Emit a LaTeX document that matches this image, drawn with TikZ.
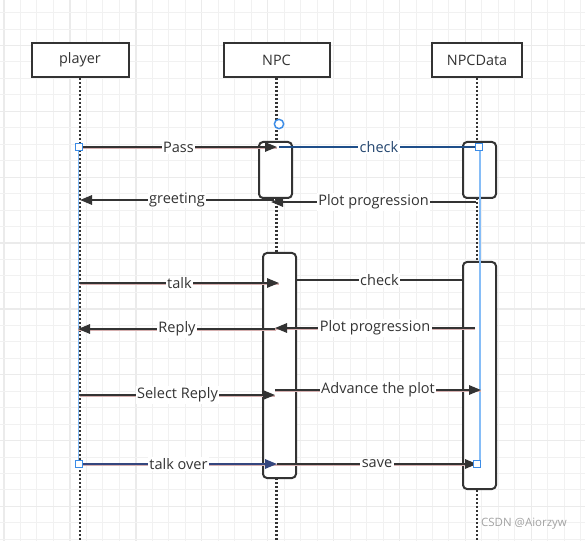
\documentclass[tikz,border=0pt]{standalone}
\usepackage{fontspec}
\setmainfont{Open Sans}
\usetikzlibrary{arrows.meta}
\definecolor{ink}{HTML}{333333}
\definecolor{gridminor}{HTML}{F1F1F1}
\definecolor{gridmajor}{HTML}{EBEBEB}
\definecolor{shadowpink}{HTML}{D6B0B0}
\definecolor{selblue}{HTML}{3C8CE6}
\definecolor{sellight}{HTML}{86BDF7}
\definecolor{edgeblue}{HTML}{1F4F8A}
\definecolor{overblue}{HTML}{34467E}
\definecolor{wmgray}{HTML}{A3A3A3}
\tikzset{
  actor/.style={draw=ink, line width=1.5pt, fill=white, minimum height=25.5pt, inner sep=0pt, font=\fontsize{10.8pt}{12pt}\selectfont, text=ink},
  actbox/.style={draw=ink, line width=1.5pt, fill=white, rounded corners=3pt, minimum width=24.75pt, inner sep=0pt},
  lifeline/.style={draw=ink, line width=1.6pt, dash pattern=on 1.5pt off 1.5pt},
  msgline/.style={draw=ink, line width=1.5pt, -{Triangle[length=9pt,width=7pt]}},
  plainline/.style={draw=ink, line width=1.5pt},
  shadowline/.style={draw=shadowpink, line width=1.1pt},
  lbl/.style={fill=white, inner sep=1pt, text=ink, font=\fontsize{10.9pt}{12pt}\selectfont},
  handlesq/.style={draw=selblue, fill=white, line width=0.9pt, minimum size=5.5pt, inner sep=0pt},
  handlecirc/.style={circle, draw=selblue, fill=white, line width=1.1pt, minimum size=7pt, inner sep=0pt},
  selline/.style={draw=sellight, line width=0.8pt},
}
\newcommand\pinkshadow[2]{\draw[shadowline] ([yshift=-0.8pt]#1) -- ([yshift=-0.8pt]#2);}
\begin{document}
\begin{tikzpicture}[x=0.75pt,y=-0.75pt]
\useasboundingbox (0,0) rectangle (585,541);
\fill[white] (0,0) rectangle (585,541);
% grid
\foreach \i in {0,...,35}{
  \pgfmathtruncatemacro\m{mod(\i,4)}
  \ifnum\m=0
    \draw[gridmajor, line width=1pt] ({4+16.48*\i},0) -- ({4+16.48*\i},541);
  \else
    \draw[gridminor, line width=0.75pt] ({4+16.48*\i},0) -- ({4+16.48*\i},541);
  \fi
}
\foreach \k in {-1,...,32}{
  \pgfmathtruncatemacro\m{mod(\k+8,4)}
  \ifnum\m=2
    \draw[gridmajor, line width=1pt] (0,{12.6+16.46*\k}) -- (585,{12.6+16.46*\k});
  \else
    \draw[gridminor, line width=0.75pt] (0,{12.6+16.46*\k}) -- (585,{12.6+16.46*\k});
  \fi
}
% actors
\node[actor, minimum width=72.75pt] (player) at (80,60) {player};
\node[actor, minimum width=79.5pt] (npc) at (276.5,60) {NPC};
\node[actor, minimum width=67.5pt] (npcdata) at (477,60) {NPCData};
\coordinate (bottom) at (0,541);
% lifelines
\draw[lifeline] (player.south) -- (player.south |- bottom);
\draw[lifeline] (npc.south) -- (npc.south |- bottom);
\draw[lifeline] (npcdata.south) -- (npcdata.south |- bottom);
% activation boxes
\node[actbox, minimum height=42pt] (act1) at (275.5,170) {};
\node[actbox, minimum height=42pt] (act2) at (479.5,170) {};
\node[actbox, minimum height=168.75pt] (act3) at (279.5,365.5) {};
\node[actbox, minimum height=170.25pt] (act4) at (479.5,375.5) {};
% endpoints
\coordinate (passS) at (80,147);  \coordinate (passE) at (277,147);
\coordinate (chkaS) at (279,147); \coordinate (chkaE) at (479,147);
\coordinate (grS) at (274,200);   \coordinate (grE) at (80,200);
\coordinate (ppaS) at (476,202);  \coordinate (ppaE) at (271,202);
\coordinate (tkS) at (80,283);    \coordinate (tkE) at (279,283);
\coordinate (chkbS) at (act3.east |- 0,280); \coordinate (chkbE) at (act4.west |- 0,280);
\coordinate (rpS) at (276,329);   \coordinate (rpE) at (78,329);
\coordinate (ppbS) at (475,328);  \coordinate (ppbE) at (275,328);
\coordinate (slS) at (80,395);    \coordinate (slE) at (275,395);
\coordinate (avS) at (275,390);   \coordinate (avE) at (481,390);
\coordinate (ovS) at (80,464);    \coordinate (ovE) at (277,464);
\coordinate (svS) at (277,464);   \coordinate (svE) at (477,464);
% selection guides
\draw[selline] (78.5,147) -- (78.5,464);
\draw[selline] (480,147) -- (480,464);
% messages
\pinkshadow{passS}{passE}
\draw[msgline] (passS) -- node[lbl]{Pass} (passE);
\draw[plainline, draw=edgeblue] (chkaS) -- node[lbl, text=edgeblue!70!ink]{check} (chkaE);
\draw[msgline] (grS) -- node[lbl]{greeting} (grE);
\draw[msgline] (ppaS) -- node[lbl]{Plot progression} (ppaE);
\pinkshadow{tkS}{tkE}
\draw[msgline] (tkS) -- node[lbl]{talk} (tkE);
\draw[plainline] (chkbS) -- node[lbl]{check} (chkbE);
\pinkshadow{rpS}{rpE}
\draw[msgline] (rpS) -- node[lbl]{Reply} (rpE);
\pinkshadow{ppbS}{ppbE}
\draw[msgline] (ppbS) -- node[lbl]{Plot progression} (ppbE);
\pinkshadow{slS}{slE}
\draw[msgline] (slS) -- node[lbl]{Select Reply} (slE);
\pinkshadow{avS}{avE}
\draw[msgline] (avS) -- node[lbl]{Advance the plot} (avE);
\pinkshadow{ovS}{ovE}
\draw[msgline, draw=overblue] (ovS) -- node[lbl]{talk over} (ovE);
\pinkshadow{svS}{svE}
\draw[msgline] (svS) -- node[lbl]{save} (svE);
% handles
\node[handlesq] (h1) at (79,147) {};
\node[handlesq] (h2) at (479,147) {};
\node[handlesq] (h3) at (79,464) {};
\node[handlesq] (h4) at (477,464) {};
\node[handlecirc] (h5) at (279,124) {};
% watermark
\node[text=wmgray, font=\fontsize{8.6pt}{10pt}\selectfont, inner sep=0pt] (wm) at (524,524) {CSDN @Aiorzyw};
\end{tikzpicture}
\end{document}
